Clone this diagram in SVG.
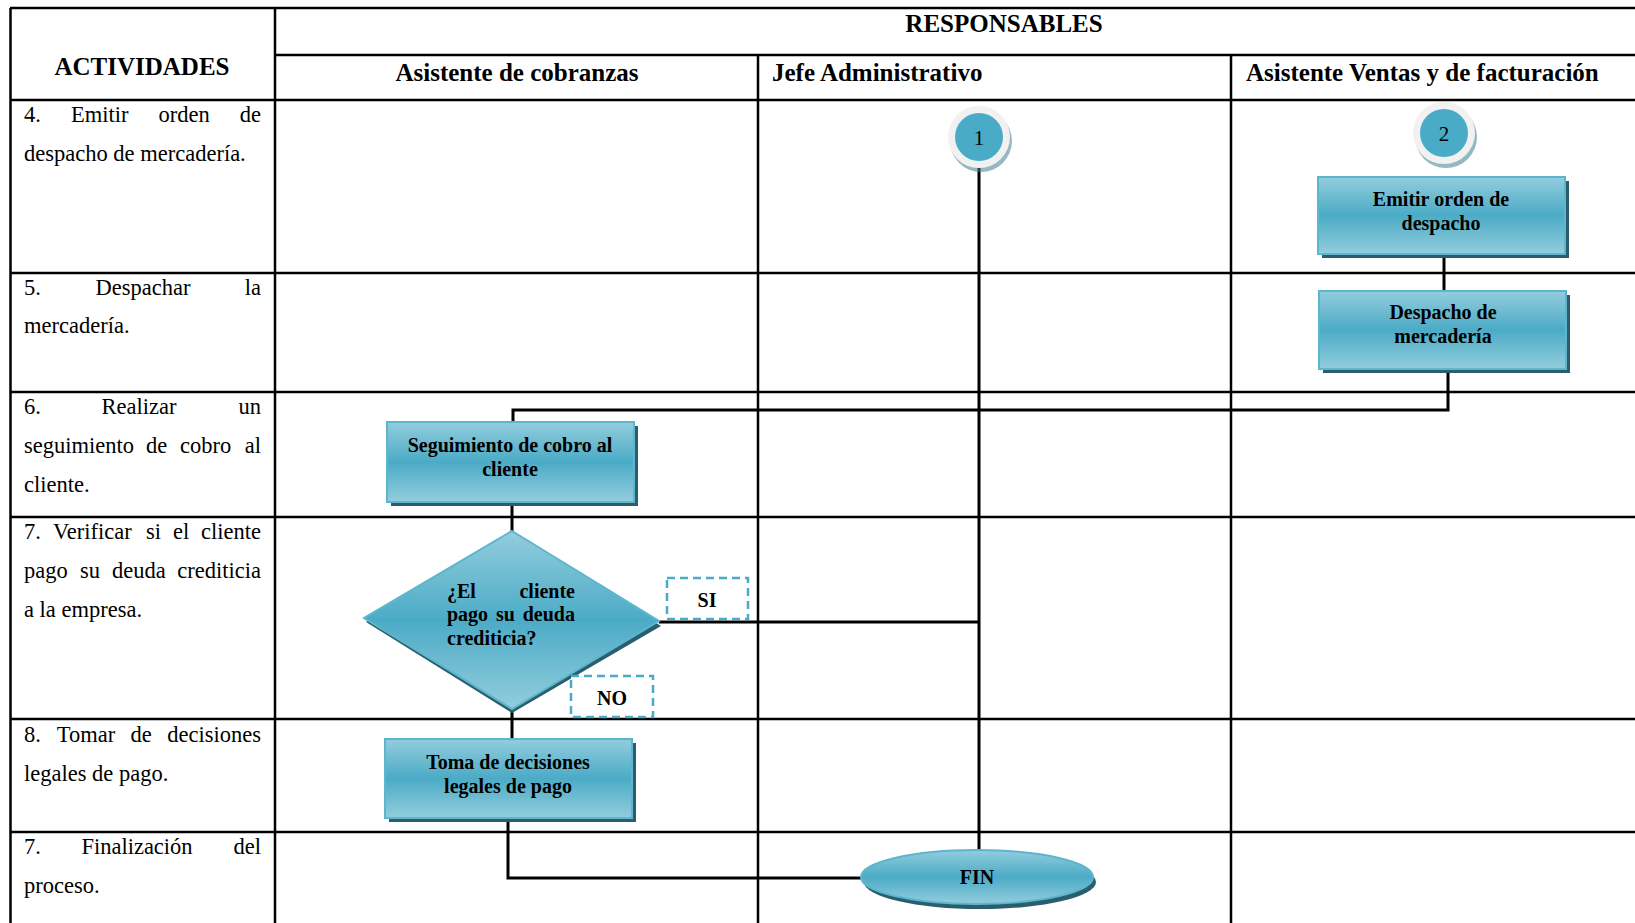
<svg xmlns="http://www.w3.org/2000/svg" width="1635" height="923" viewBox="0 0 1635 923">
  <defs>
    <linearGradient id="tealV" x1="0" y1="0" x2="0" y2="1">
      <stop offset="0" stop-color="#93cddd"/>
      <stop offset="0.5" stop-color="#4babc6"/>
      <stop offset="1" stop-color="#93cddd"/>
    </linearGradient>
    <style>
      .grid { stroke: #000; stroke-width: 2.5; fill: none; }
      .head { font-family: "Liberation Serif", "Times New Roman", serif; font-weight: bold; font-size: 25px; fill: #000; }
      .act { font-family: "Liberation Serif", "Times New Roman", serif; font-size: 22.5px; fill: #000; }
      .lbl { font-family: "Liberation Serif", "Times New Roman", serif; font-weight: bold; font-size: 20px; fill: #000; text-anchor: middle; }
      .lbl-l { font-family: "Liberation Serif", "Times New Roman", serif; font-weight: bold; font-size: 20px; fill: #000; }
      .num { font-family: "Liberation Serif", "Times New Roman", serif; font-size: 21px; fill: #000; text-anchor: middle; }
      .box { fill: url(#tealV); stroke: #5db6cd; stroke-width: 2; }
      .shadow { fill: #2a5e6c; }
      .tag { fill: #fff; stroke: #4aabc6; stroke-width: 2.5; stroke-dasharray: 8 5; }
      .wire { stroke: #000; stroke-width: 3; fill: none; }
      .ring { fill: #f1f1f1; }
      .core { fill: #4aabc6; }
      .rim { fill: #3f7f8e; opacity: 0.55; }
    </style>
  </defs>

  <rect width="1635" height="923" fill="#fff"/>

  <!-- table grid -->
  <g id="table">
    <line class="grid" x1="10" y1="8" x2="1635" y2="8"/>
    <line class="grid" x1="10.5" y1="8" x2="10.5" y2="923"/>
    <line class="grid" x1="275" y1="8" x2="275" y2="923"/>
    <line class="grid" x1="275" y1="55" x2="1635" y2="55"/>
    <line class="grid" x1="10" y1="100" x2="1635" y2="100"/>
    <line class="grid" x1="758" y1="55" x2="758" y2="923"/>
    <line class="grid" x1="1231" y1="55" x2="1231" y2="923"/>
    <line class="grid" x1="10" y1="273" x2="1635" y2="273"/>
    <line class="grid" x1="10" y1="392" x2="1635" y2="392"/>
    <line class="grid" x1="10" y1="517" x2="1635" y2="517"/>
    <line class="grid" x1="10" y1="719" x2="1635" y2="719"/>
    <line class="grid" x1="10" y1="832" x2="1635" y2="832"/>
  </g>

  <!-- headers -->
  <g id="headers">
    <text class="head" x="1004" y="32" text-anchor="middle">RESPONSABLES</text>
    <text class="head" x="142" y="75" text-anchor="middle">ACTIVIDADES</text>
    <text class="head" x="517" y="81" text-anchor="middle">Asistente de cobranzas</text>
    <text class="head" x="772" y="81">Jefe Administrativo</text>
    <text class="head" x="1246" y="81">Asistente Ventas y de facturación</text>
  </g>

  <!-- activity descriptions (justified) -->
  <g id="activities">
    <text class="act" x="24" y="122">4.</text>
    <text class="act" x="71" y="122">Emitir</text>
    <text class="act" x="158.5" y="122">orden</text>
    <text class="act" x="261" y="122" text-anchor="end">de</text>
    <text class="act" x="24" y="161">despacho de mercadería.</text>

    <text class="act" x="24" y="295">5.</text>
    <text class="act" x="95.5" y="295">Despachar</text>
    <text class="act" x="261" y="295" text-anchor="end">la</text>
    <text class="act" x="24" y="333">mercadería.</text>

    <text class="act" x="24" y="414">6.</text>
    <text class="act" x="101.5" y="414">Realizar</text>
    <text class="act" x="261" y="414" text-anchor="end">un</text>
    <text class="act" x="24" y="453">seguimiento</text>
    <text class="act" x="146" y="453">de</text>
    <text class="act" x="180" y="453">cobro</text>
    <text class="act" x="261" y="453" text-anchor="end">al</text>
    <text class="act" x="24" y="492">cliente.</text>

    <text class="act" x="24" y="539">7.</text>
    <text class="act" x="53" y="539">Verificar</text>
    <text class="act" x="146" y="539">si</text>
    <text class="act" x="173" y="539">el</text>
    <text class="act" x="261" y="539" text-anchor="end">cliente</text>
    <text class="act" x="24" y="578">pago</text>
    <text class="act" x="80" y="578">su</text>
    <text class="act" x="112" y="578">deuda</text>
    <text class="act" x="261" y="578" text-anchor="end">crediticia</text>
    <text class="act" x="24" y="617">a la empresa.</text>

    <text class="act" x="24" y="742">8.</text>
    <text class="act" x="86" y="742" text-anchor="middle">Tomar</text>
    <text class="act" x="141" y="742" text-anchor="middle">de</text>
    <text class="act" x="261" y="742" text-anchor="end">decisiones</text>
    <text class="act" x="24" y="781">legales de pago.</text>

    <text class="act" x="24" y="854">7.</text>
    <text class="act" x="137" y="854" text-anchor="middle">Finalización</text>
    <text class="act" x="261" y="854" text-anchor="end">del</text>
    <text class="act" x="24" y="893">proceso.</text>
  </g>

  <!-- connectors -->
  <g id="connectors">
    <polyline class="wire" points="979,168 979,852"/>
    <polyline class="wire" points="1444,254 1444,291"/>
    <polyline class="wire" points="1448,369 1448,410 513,410 513,422"/>
    <polyline class="wire" points="512,502 512,531"/>
    <polyline class="wire" points="659,622 979,622"/>
    <polyline class="wire" points="512,709 512,739"/>
    <polyline class="wire" points="508,818 508,878 862,878"/>
  </g>

  <!-- connector 1 -->
  <g id="node-c1">
    <circle class="rim" cx="981" cy="141" r="31"/>
    <circle class="ring" cx="979" cy="137" r="31"/>
    <circle class="core" cx="979" cy="137" r="24"/>
    <text class="num" x="979" y="145">1</text>
  </g>

  <!-- connector 2 -->
  <g id="node-c2">
    <circle class="rim" cx="1446" cy="137" r="31"/>
    <circle class="ring" cx="1444" cy="133" r="31"/>
    <circle class="core" cx="1444" cy="133" r="24"/>
    <text class="num" x="1444" y="141">2</text>
  </g>

  <g id="node-emitir">
    <rect class="shadow" x="1322" y="181" width="247" height="77"/>
    <rect class="box" x="1318" y="177" width="247" height="77"/>
    <text class="lbl" x="1441" y="206">Emitir orden de</text>
    <text class="lbl" x="1441" y="230">despacho</text>
  </g>

  <g id="node-despacho">
    <rect class="shadow" x="1323" y="295" width="247" height="78"/>
    <rect class="box" x="1319" y="291" width="247" height="78"/>
    <text class="lbl" x="1443" y="319">Despacho de</text>
    <text class="lbl" x="1443" y="343">mercadería</text>
  </g>

  <g id="node-seguimiento">
    <rect class="shadow" x="391" y="426" width="247" height="80"/>
    <rect class="box" x="387" y="422" width="247" height="80"/>
    <text class="lbl" x="510" y="452">Seguimiento de cobro al</text>
    <text class="lbl" x="510" y="476">cliente</text>
  </g>

  <g id="node-decision">
    <polygon class="shadow" points="512,535 661,626 512,713 366,622"/>
    <polygon class="box" points="512,531 659,621 512,709 364,618"/>
    <text class="lbl-l" x="447" y="598">¿El</text>
    <text class="lbl-l" x="575" y="598" text-anchor="end">cliente</text>
    <text class="lbl-l" x="447" y="621">pago</text>
    <text class="lbl-l" x="496" y="621">su</text>
    <text class="lbl-l" x="575" y="621" text-anchor="end">deuda</text>
    <text class="lbl-l" x="447" y="645">crediticia?</text>
  </g>

  <g id="tag-si">
    <rect class="tag" x="667" y="578" width="81" height="41"/>
    <text class="lbl" x="707" y="607">SI</text>
  </g>

  <g id="tag-no">
    <rect class="tag" x="571" y="676" width="82" height="41"/>
    <text class="lbl" x="612" y="705">NO</text>
  </g>

  <g id="node-toma">
    <rect class="shadow" x="389" y="743" width="247" height="79"/>
    <rect class="box" x="385" y="739" width="247" height="79"/>
    <text class="lbl" x="508" y="769">Toma de decisiones</text>
    <text class="lbl" x="508" y="793">legales de pago</text>
  </g>

  <g id="node-fin">
    <ellipse class="shadow" cx="980" cy="882" rx="116" ry="27"/>
    <ellipse class="box" cx="977" cy="877" rx="116" ry="27"/>
    <text class="lbl" x="977" y="884">FIN</text>
  </g>
</svg>
